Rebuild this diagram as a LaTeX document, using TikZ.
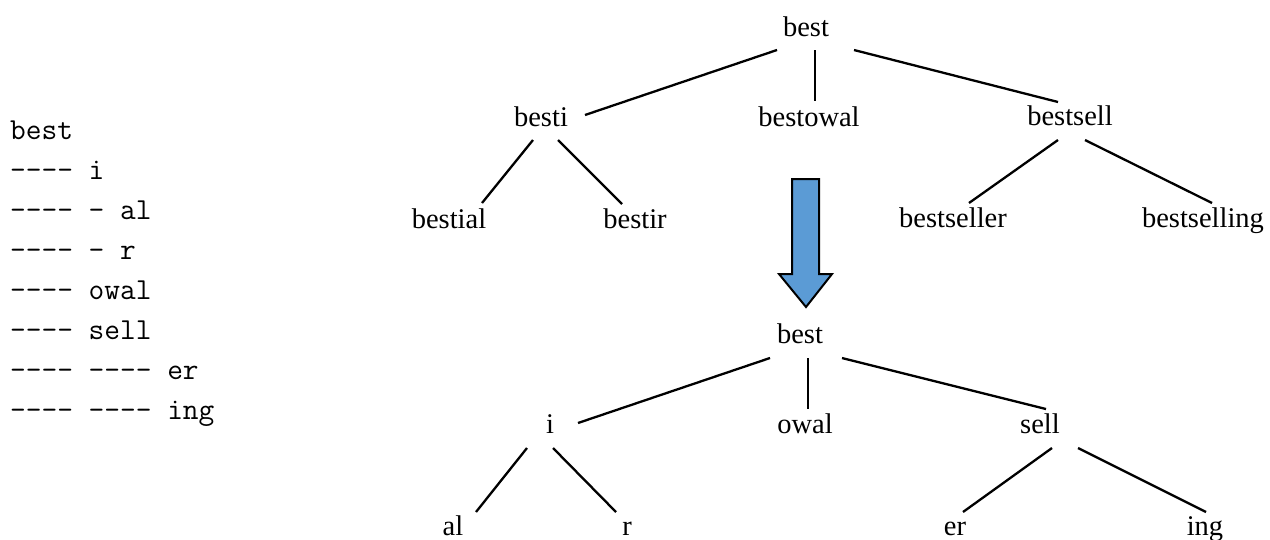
\documentclass[tikz,border=0pt]{standalone}
\usepackage{fontspec}
\setmainfont{Liberation Serif}
\newcommand{\dsh}{-\kern0pt-\kern0pt-\kern0pt-}
\definecolor{arrowblue}{HTML}{5B9BD5}
\begin{document}
\begin{tikzpicture}[x=1pt,y=-1pt,
  word/.style={anchor=base,inner sep=0pt,font=\fontsize{28.5}{34}\selectfont},
  mono/.style={anchor=base west,inner sep=0pt,font=\ttfamily\fontsize{30.5}{40}\selectfont},
  edge/.style={line width=2.3pt}]
\useasboundingbox (0,0) rectangle (1270,539);
% left text
\node[mono] (l1) at (10,139) {best};
\node[mono] (l2) at (10,179) {\dsh{} i};
\node[mono] (l3) at (10,219) {\dsh{} - al};
\node[mono] (l4) at (10,259) {\dsh{} - r};
\node[mono] (l5) at (10,299) {\dsh{} owal};
\node[mono] (l6) at (10,339) {\dsh{} sell};
\node[mono] (l7) at (10,379) {\dsh{} \dsh{} er};
\node[mono] (l8) at (10,419) {\dsh{} \dsh{} ing};
% top tree
\node[word] (best) at (806,36) {best};
\node[word] (besti) at (541,126) {besti};
\node[word] (bestowal) at (809,126) {bestowal};
\node[word] (bestsell) at (1070,125) {bestsell};
\node[word] (bestial) at (449,228) {bestial};
\node[word] (bestir) at (635,228) {bestir};
\node[word] (bestseller) at (953,227) {bestseller};
\node[word] (bestselling) at (1203,227) {bestselling};
\coordinate (a1) at (777,50);  \coordinate (b1) at (585,115);
\coordinate (a2) at (815,50);  \coordinate (b2) at (815,101);
\coordinate (a3) at (854,50);  \coordinate (b3) at (1058,102);
\coordinate (a4) at (533,140); \coordinate (b4) at (482,203);
\coordinate (a5) at (558,140); \coordinate (b5) at (622,204);
\coordinate (a6) at (1058,140); \coordinate (b6) at (969,203);
\coordinate (a7) at (1085,140); \coordinate (b7) at (1212,203);
\foreach \k in {1,...,7} \draw[edge] (a\k) -- (b\k);
% arrow
\draw[fill=arrowblue,line width=2pt,line join=miter]
  (792,179) -- (819,179) -- (819,274) -- (832,274) -- (806,307)
  -- (779,274) -- (792,274) -- cycle;
% bottom tree
\node[word] (best2) at (800,343) {best};
\node[word] (i) at (550,433) {i};
\node[word] (owal) at (805,433) {owal};
\node[word] (sell) at (1040,433) {sell};
\node[word] (al) at (453,535) {al};
\node[word] (r) at (627,535) {r};
\node[word] (er) at (955,535) {er};
\node[word] (ing) at (1205,535) {ing};
\coordinate (c1) at (770,358);  \coordinate (d1) at (578,423);
\coordinate (c2) at (808,358);  \coordinate (d2) at (808,409);
\coordinate (c3) at (842,358);  \coordinate (d3) at (1046,409);
\coordinate (c4) at (527,448);  \coordinate (d4) at (476,512);
\coordinate (c5) at (553,448);  \coordinate (d5) at (616,512);
\coordinate (c6) at (1052,448); \coordinate (d6) at (963,512);
\coordinate (c7) at (1078,448); \coordinate (d7) at (1206,512);
\foreach \k in {1,...,7} \draw[edge] (c\k) -- (d\k);
\end{tikzpicture}
\end{document}
